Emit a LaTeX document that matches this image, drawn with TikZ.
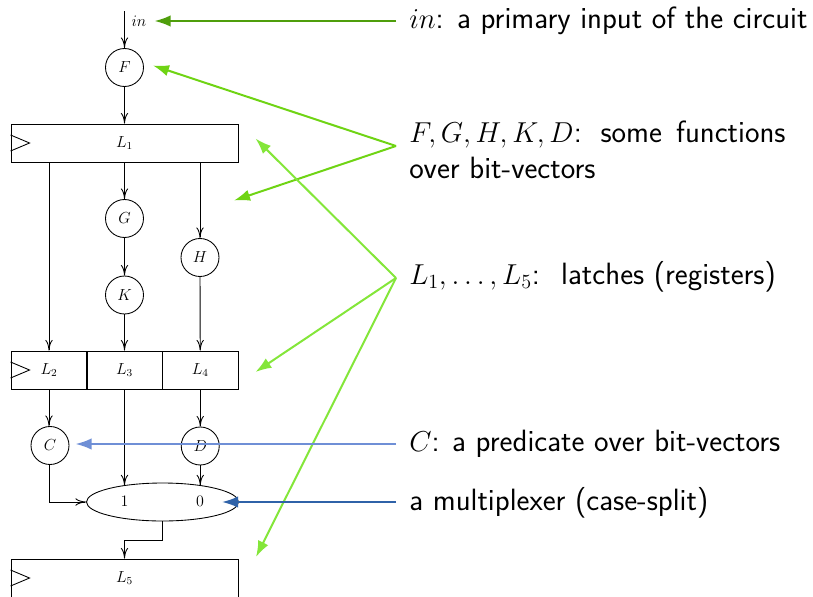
\documentclass[tikz,border=0pt]{standalone}
\usepackage{fix-cm}
\usetikzlibrary{arrows.meta,shapes.geometric,calc}
\definecolor{ingreen}{HTML}{4F9E0C}
\definecolor{fgreen}{HTML}{6FD414}
\definecolor{lgreen}{HTML}{84E63A}
\definecolor{cblue}{HTML}{6F8FD6}
\definecolor{mblue}{HTML}{2F62A8}
\newcommand{\mth}[1]{{\fontsize{21.6}{26}\selectfont$#1$}}
\tikzset{
  x=0.75pt,y=-0.75pt,
  wire/.style={draw=black,line width=0.65pt,-{Computer Modern Rightarrow[length=8pt,width=5.5pt]}},
  func/.style={circle,draw=black,line width=0.65pt,minimum size=28.5pt,inner sep=0pt,font=\fontsize{12}{14}\selectfont},
  cell/.style={rectangle,draw=black,line width=0.65pt,minimum height=28.5pt,inner sep=0pt,font=\fontsize{12}{14}\selectfont},
  wide/.style={cell,minimum width=170.25pt},
  narrow/.style={cell,minimum width=57pt},
  clocktri/.style={draw=black,line width=0.65pt},
  mux/.style={ellipse,draw=black,line width=0.65pt,minimum width=114pt,minimum height=28.5pt,inner sep=0pt},
  small/.style={inner sep=0pt,font=\fontsize{12}{14}\selectfont},
  note/.style={anchor=base west,inner sep=0pt,font=\fontsize{23.1}{26}\selectfont\sffamily},
  callout/.style={line width=1.5pt,-{Latex[length=12pt,width=8.5pt]}},
}
\begin{document}
\begin{tikzpicture}
\useasboundingbox (0,0) rectangle (813,596);
\clip (0,0) rectangle (813,596);
% circuit
\coordinate (intop) at (124.5,11);
\node[small] (inlab) at (139,21) {$in$};
\node[func] (F) at (124.5,67.5) {$F$};
\node[wide] (L1) at (124.5,143) {$L_1$};
\node[func] (G) at (124.5,218.5) {$G$};
\node[func] (H) at (200,257.5) {$H$};
\node[func] (K) at (124.5,295) {$K$};
\node[narrow] (L2) at (49,370) {$L_2$};
\node[narrow] (L3) at (124.5,370) {$L_3$};
\node[narrow] (L4) at (200.25,370) {$L_4$};
\node[func] (C) at (50,445.5) {$C$};
\node[func] (D) at (200.25,446) {$D$};
\node[mux] (M) at (162.5,502) {};
\node[small] (one) at (124.5,501) {$1$};
\node[small] (zero) at (200,501) {$0$};
\node[wide] (L5) at (124.5,578) {$L_5$};
% clock triangles
\draw[clocktri] ($(L1.west)+(0,-8)$) -- ++(19,8) -- ++(-19,8);
\draw[clocktri] ($(L2.west)+(0,-8)$) -- ++(19,8) -- ++(-19,8);
\draw[clocktri] ($(L5.west)+(0,-8)$) -- ++(19,8) -- ++(-19,8);
% wires
\draw[wire] (intop) -- (F);
\draw[wire] (F) -- (L1);
\draw[wire] (L1) -- (G);
\draw[wire] (G) -- (K);
\draw[wire] (L1.south -| L2) -- (L2);
\draw[wire] (L1.south -| H) -- (H);
\draw[wire] (K) -- (L3);
\draw[wire] (H) -- (L4);
\draw[wire] (L2) -- (L2 |- C.north);
\draw[wire] (L4) -- (D);
\draw[wire] (L3.south) -- (L3.south |- 0,485.5);
\draw[wire] (D) -- (D |- 0,485.5);
\draw[wire] (L2 |- C.south) |- (M.west);
\draw[wire] (M.south) -- (162.5,540) -| (L5.north);
% notes
\node[note] (tin) at (409,28.5) {\mth{in}:\hspace{10pt}a primary input of the circuit};
\node[note] (tf) at (409,142) {\mth{F,G,H,K,D}:\hspace{14pt}some\hspace{3.5pt} functions};
\node[note] (tf2) at (409,178) {over bit-vectors};
\node[note] (tl) at (409,284) {\mth{L_1,\ldots,L_5}:\hspace{16pt}latches (registers)};
\node[note] (tc) at (409,451.5) {\mth{C}:\hspace{9.5pt}a predicate over bit-vectors};
\node[note] (tm) at (409,510.5) {a multiplexer (case-split)};
% callouts
\coordinate (sin) at (396,21);
\coordinate (ein) at (154.5,21);
\coordinate (sf) at (396,146);
\coordinate (ef1) at (153,65.5);
\coordinate (ef2) at (234,200.5);
\coordinate (sl) at (396,278);
\coordinate (el1) at (255.5,138.5);
\coordinate (el2) at (255.5,372);
\coordinate (el3) at (256,557);
\coordinate (sc) at (396,444);
\coordinate (ec) at (75.5,444);
\coordinate (sm) at (396,502);
\coordinate (em) at (222,502);
\draw[callout,ingreen] (sin) -- (ein);
\draw[callout,fgreen] (sf) -- (ef1);
\draw[callout,fgreen] (sf) -- (ef2);
\draw[callout,lgreen] (sl) -- (el1);
\draw[callout,lgreen] (sl) -- (el2);
\draw[callout,lgreen] (sl) -- (el3);
\draw[callout,cblue] (sc) -- (ec);
\draw[callout,mblue] (sm) -- (em);
\end{tikzpicture}
\end{document}
